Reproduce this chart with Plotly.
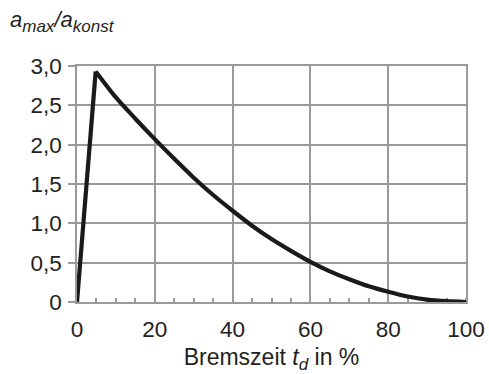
import plotly.graph_objects as go

# Braking time in % and the resulting acceleration ratio a_max / a_konst
bremszeit = [0, 4.8, 10, 15, 20, 25, 30, 35, 40, 45, 50, 55, 60, 65, 70, 75, 80, 85, 90, 95, 100]
verhaeltnis = [0, 2.93, 2.60, 2.33, 2.07, 1.82, 1.58, 1.36, 1.16, 0.97, 0.80, 0.65,
               0.51, 0.39, 0.29, 0.20, 0.13, 0.07, 0.03, 0.01, 0.0]

y_tickvals = [0, 0.5, 1.0, 1.5, 2.0, 2.5, 3.0]
y_ticktext = ["0", "0,5", "1,0", "1,5", "2,0", "2,5", "3,0"]
x_tickvals = [0, 20, 40, 60, 80, 100]

FONT = "Liberation Sans, Arial, sans-serif"
TEXT = "#231f20"
GRID = "#9a9a9a"
LINE = dict(color="#1a1a1a", width=4.2)

peak = 1  # index of the maximum: straight rise before it, smooth decay after it

fig = go.Figure()
fig.add_trace(go.Scatter(
    x=bremszeit[:peak + 1], y=verhaeltnis[:peak + 1], mode="lines",
    line=LINE, cliponaxis=False, showlegend=False,
))
fig.add_trace(go.Scatter(
    x=bremszeit[peak:], y=verhaeltnis[peak:], mode="lines",
    line=dict(**LINE, shape="spline", smoothing=0.8),
    cliponaxis=False, showlegend=False,
))

sub = lambda s: f"<sub><span style='font-size:17px'><i>{s}</i></span></sub>"

fig.update_layout(
    width=489, height=374,
    margin=dict(l=77, r=23, t=66, b=72),
    paper_bgcolor="white", plot_bgcolor="white",
    font=dict(family=FONT, size=22.5, color=TEXT),
    xaxis=dict(
        range=[0, 100], tickvals=x_tickvals, ticks="", automargin=False,
        showgrid=True, gridcolor=GRID, gridwidth=1.5,
        showline=True, linecolor=GRID, linewidth=1.5, mirror=True,
        zeroline=False, layer="below traces",
        ticklabelstandoff=6,
        minor=dict(dtick=5, ticks="inside", ticklen=4, tickcolor=GRID, tickwidth=1.5, showgrid=False),
        title=dict(text="Bremszeit <i>t</i>" + sub("d") + " in %", font=dict(size=23), standoff=10),
    ),
    yaxis=dict(
        range=[0, 3], tickvals=y_tickvals, ticktext=y_ticktext, automargin=False,
        ticks="outside", ticklen=7, tickcolor=GRID, tickwidth=1.5,
        showgrid=True, gridcolor=GRID, gridwidth=1.5,
        showline=True, linecolor=GRID, linewidth=1.5, mirror=True,
        zeroline=False, layer="below traces",
        ticklabelstandoff=2,
    ),
    annotations=[dict(
        text="<i>a</i>" + sub("max") + "<i>/a</i>" + sub("konst"),
        xref="paper", yref="paper", x=0, y=1, xanchor="left", yanchor="middle",
        xshift=-69, yshift=45, showarrow=False, font=dict(size=22, color=TEXT),
    )],
)

fig.write_html("out.html")
